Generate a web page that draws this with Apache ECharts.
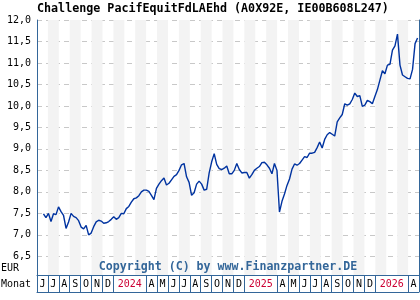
<!DOCTYPE html>
<html><head><meta charset="utf-8">
<script src="https://cdn.jsdelivr.net/npm/echarts@6/dist/echarts.min.js"></script>
<style>html,body{margin:0;padding:0;background:#fff}#c{width:420px;height:300px}</style>
</head><body><div id="c"></div>
<script>
// weekly closing values from 2023-06-19
const startDate = '2023-06-19';
const values = [
7.49,7.40,7.50,7.31,7.49,7.47,7.65,7.54,7.45,7.15,
7.30,7.50,7.43,7.40,7.33,7.18,7.14,7.22,7.00,7.04,
7.19,7.30,7.34,7.32,7.27,7.28,7.31,7.36,7.42,7.36,
7.40,7.50,7.49,7.61,7.66,7.76,7.84,7.86,7.91,8.00,
8.04,8.04,8.01,7.92,7.82,8.08,8.18,8.26,8.32,8.16,
8.20,8.28,8.36,8.40,8.50,8.63,8.66,8.35,8.22,7.92,
7.98,8.18,8.25,8.18,8.04,8.06,8.44,8.70,8.89,8.64,
8.54,8.52,8.55,8.60,8.42,8.42,8.50,8.66,8.52,8.44,
8.45,8.45,8.32,8.40,8.50,8.55,8.59,8.68,8.69,8.63,
8.55,8.42,8.66,8.50,7.53,7.78,7.95,8.15,8.30,8.53,
8.65,8.62,8.66,8.74,8.82,8.80,8.90,8.90,8.92,9.03,
9.16,9.02,9.22,9.33,9.38,9.34,9.30,9.63,9.72,9.80,
10.05,10.02,10.05,10.15,10.30,10.22,10.24,9.99,10.02,10.13,
10.10,10.05,10.22,10.38,10.60,10.82,10.75,10.95,10.97,11.30,
11.40,11.67,10.95,10.72,10.68,10.64,10.63,10.85,11.45,11.58
];
const monthKeys = ['2023-06','2023-07','2023-08','2023-09','2023-10','2023-11','2023-12',
'2024-01','2024-02','2024-03','2024-04','2024-05','2024-06','2024-07','2024-08','2024-09','2024-10','2024-11','2024-12',
'2025-01','2025-02','2025-03','2025-04','2025-05','2025-06','2025-07','2025-08','2025-09','2025-10','2025-11','2025-12',
'2026-01','2026-02','2026-03','2026-04'];
const monthLabels = ['J','J','A','S','O','N','D','','2024','','A','M','J','J','A','S','O','N','D',
'','2025','','A','M','J','J','A','S','O','N','D','','2026','','A'];
const yTickLabels = ['6,5','7,0','7,5','8,0','8,5','9,0','9,5','10,0','10,5','11,0','11,5','12,0'];
const titleText = 'Challenge PacifEquitFdLAEhd (A0X92E, IE00B608L247)';
const copyrightText = 'Copyright (C) by www.Finanzpartner.DE';

function fmt(d){const p=n=>String(n).padStart(2,'0');return d.getUTCFullYear()+'-'+p(d.getUTCMonth()+1)+'-'+p(d.getUTCDate());}
const t0 = new Date(startDate+'T00:00:00Z');
const dates = values.map((v,i)=>fmt(new Date(t0.getTime()+i*7*86400000)));
const seriesData = dates.map((d,i)=>[d, values[i]]);

const isYear = s => /^\d{4}$/.test(s);
const FRAME = '#336699';
const MONO = '"DejaVu Sans Mono", monospace';

const chart = echarts.init(document.getElementById('c'), null, {renderer:'canvas'});
chart.setOption({
  animation:false,
  grid:{left:37, right:1, top:20, bottom:25, containLabel:false},
  xAxis:[
    {type:'time', min:'2023-06-01', max:'2026-05-01', show:false},
    {type:'category', data:monthKeys, boundaryGap:true, position:'bottom',
     axisLine:{show:true, onZero:false, lineStyle:{color:FRAME, width:1}},
     axisTick:{show:true, length:17, lineStyle:{color:FRAME, width:1},
       interval:(i)=>!(isYear(monthLabels[i]) || (monthLabels[i]==='' && i>0 && isYear(monthLabels[i-1])))},
     axisLabel:{show:true, interval:0, margin:4, fontFamily:MONO, fontSize:10, color:'#000',
       formatter:(v,i)=>{const s=monthLabels[i]; return isYear(s)?'{y|'+s+'}':s;},
       rich:{y:{color:'#cc0033', fontFamily:MONO, fontSize:10}}},
     splitArea:{show:true, interval:0, areaStyle:{color:['rgba(255,255,255,0)','#f3f3f3']}},
     splitLine:{show:false}},
    {type:'category', data:monthKeys, boundaryGap:true, position:'bottom', offset:17,
     axisLine:{show:true, onZero:false, lineStyle:{color:FRAME, width:1}},
     axisTick:{show:false}, axisLabel:{show:false}, splitLine:{show:false}}
  ],
  yAxis:[
    {type:'value', min:6.065, max:12, splitNumber:12, minInterval:0.5, maxInterval:0.5,
     axisLine:{show:true, lineStyle:{color:FRAME, width:1}}, axisTick:{show:false},
     axisLabel:{margin:6, fontFamily:MONO, fontSize:10, color:'#000',
       formatter:(v)=>{const k=Math.round(v*2); if(Math.abs(v*2-k)>1e-6) return ''; const idx=k-13; return (idx>=0&&idx<yTickLabels.length)?yTickLabels[idx]:'';}},
     splitLine:{show:true, lineStyle:{color:'#c8c8c8', type:[5,4], width:1}}},
    {type:'value', min:6.065, max:12, position:'right',
     axisLine:{show:true, lineStyle:{color:FRAME, width:1}}, axisTick:{show:false},
     axisLabel:{show:false}, splitLine:{show:false}}
  ],
  series:[{type:'line', xAxisIndex:0, yAxisIndex:0, data:seriesData, showSymbol:false,
    lineStyle:{color:'#0033a0', width:1.4}, clip:true, z:5}],
  graphic:[
    {type:'text', left:37, top:3, style:{text:titleText, font:'bold 11.7px '+MONO, fill:'#000'}},
    {type:'text', x:228, y:267, style:{text:copyrightText, font:'bold 11.6px '+MONO, fill:FRAME, align:'center', verticalAlign:'middle', textAlign:'center', textVerticalAlign:'middle'}, z:10},
    {type:'text', x:1, y:268, style:{text:'EUR', font:'10px '+MONO, fill:'#000', verticalAlign:'middle', textVerticalAlign:'middle'}},
    {type:'text', x:1, y:284, style:{text:'Monat', font:'10px '+MONO, fill:'#000', verticalAlign:'middle', textVerticalAlign:'middle'}}
  ]
});
</script></body></html>
